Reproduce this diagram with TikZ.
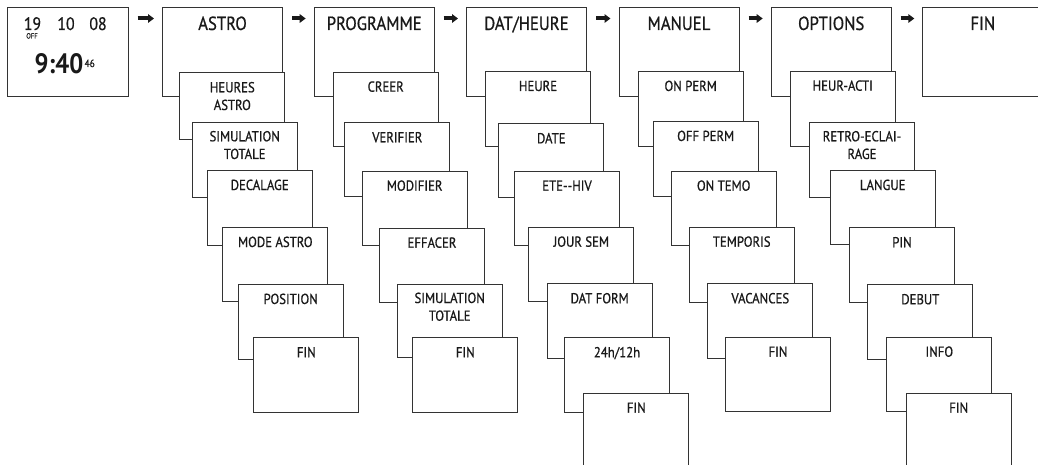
\documentclass[tikz,border=0pt]{standalone}
\usepackage{fontspec}
\setmainfont{PT Sans}[FakeStretch=0.88,UprightFeatures={FakeBold=0.7}]
\usetikzlibrary{arrows.meta}
\begin{document}
\begin{tikzpicture}[x=1pt,y=-1pt,
  bx/.style={draw=black!80,line width=1pt,fill=white,rectangle,inner sep=0pt,anchor=north west},
  tb/.style={bx,minimum width=120pt,minimum height=89.5pt},
  sb/.style={bx,minimum width=105pt,minimum height=#1},
  tl/.style={font=\fontsize{19}{22}\selectfont,text=black!90,inner sep=0pt,anchor=base},
  sl/.style={font=\fontsize{14.5}{17.7}\selectfont,text=black!90,inner sep=0pt,anchor=base,align=center},
  arr/.style={line width=4pt,black!90,-{Triangle[length=6pt,width=8.5pt]},shorten <=9pt,shorten >=8pt}]
\useasboundingbox (0,0) rectangle (1038,465);
\clip (0,0) rectangle (1038,465);

% top row
\node[tb,minimum width=121pt] (clk) at (6.7,7) {};
\node[tb] (astro) at (162,7) {};
\node[tb] (prog) at (313.7,7) {};
\node[tb] (dat) at (466,7) {};
\node[tb] (man) at (618.5,7) {};
\node[tb] (opt) at (770.7,7) {};
\node[tb] (fin) at (922.3,7) {};

\node[tl] (astrot) at ([yshift=-23pt]astro.north) {ASTRO};
\node[tl] (progt) at ([yshift=-23pt]prog.north) {PROGRAMME};
\node[tl] (datt) at ([yshift=-23pt]dat.north) {DAT/HEURE};
\node[tl] (mant) at ([yshift=-23pt]man.north) {MANUEL};
\node[tl] (optt) at ([yshift=-23pt]opt.north) {OPTIONS};
\node[tl] (fint) at ([yshift=-23pt]fin.north) {FIN};

% clock
\node[tl,font=\fontsize{18}{20}\selectfont] (c19) at (32.5,30) {19};
\node[tl,font=\fontsize{18}{20}\selectfont] (c10) at (66,30) {10};
\node[tl,font=\fontsize{18}{20}\selectfont] (c08) at (98,30) {08};
\node[tl,font=\fontsize{7.5}{8}\selectfont] (coff) at (32,38.5) {OFF};
\node[tl,font=\fontsize{28}{30}\bfseries\selectfont,anchor=base west] (ctime) at (34.5,74) {9:40};
\node[tl,font=\fontsize{10.5}{11}\selectfont,anchor=base west] (csec) at (84.5,67) {46};

% arrows
\foreach \a/\b in {clk/astro,astro/prog,prog/dat,dat/man,man/opt,opt/fin}
  \draw[arr] ([yshift=-11.5pt]\a.north east) -- ([yshift=-11.5pt]\b.north west);

% ASTRO column
\node[sb=66.7pt] (a1) at (179.3,72.3) {};
\node[sl] (a1t) at ([yshift=-37.7pt]a1.north) {HEURES\\ASTRO};
\node[sb=74.4pt] (a2) at (191.7,122.3) {};
\node[sl] (a2t) at ([yshift=-36.7pt]a2.north) {SIMULATION\\TOTALE};
\node[sb=75pt] (a3) at (206.7,170) {};
\node[sl] (a3t) at ([yshift=-20pt]a3.north) {DECALAGE};
\node[sb=74pt] (a4) at (222.3,227) {};
\node[sl] (a4t) at ([yshift=-20pt]a4.north) {MODE ASTRO};
\node[sb=74.7pt] (a5) at (237.7,284) {};
\node[sl] (a5t) at ([yshift=-20pt]a5.north) {POSITION};
\node[sb=74.4pt] (a6) at (253.3,337.3) {};
\node[sl] (a6t) at ([yshift=-20pt]a6.north) {FIN};

% PROGRAMME column
\node[sb=74pt] (p1) at (332.7,71.7) {};
\node[sl] (p1t) at ([yshift=-20pt]p1.north) {CREER};
\node[sb=73.7pt] (p2) at (344.3,122.3) {};
\node[sl] (p2t) at ([yshift=-20pt]p2.north) {VERIFIER};
\node[sb=74.3pt] (p3) at (361.7,170.7) {};
\node[sl] (p3t) at ([yshift=-20pt]p3.north) {MODIFIER};
\node[sb=74pt] (p4) at (379,227.7) {};
\node[sl] (p4t) at ([yshift=-20pt]p4.north) {EFFACER};
\node[sb=73.3pt] (p5) at (396.7,284) {};
\node[sl] (p5t) at ([yshift=-36.7pt]p5.north) {SIMULATION\\TOTALE};
\node[sb=74.4pt] (p6) at (412.3,337.3) {};
\node[sl] (p6t) at ([yshift=-20pt]p6.north) {FIN};

% DAT/HEURE column
\node[sb=74.7pt] (d1) at (485,71) {};
\node[sl] (d1t) at ([yshift=-20pt]d1.north) {HEURE};
\node[sb=73.4pt] (d2) at (498.3,123.3) {};
\node[sl] (d2t) at ([yshift=-20pt]d2.north) {DATE};
\node[sb=74.3pt] (d3) at (514,170.7) {};
\node[sl] (d3t) at ([yshift=-20pt]d3.north) {ETE-{}-HIV};
\node[sb=74.3pt] (d4) at (528.3,226.7) {};
\node[sl] (d4t) at ([yshift=-20pt]d4.north) {JOUR SEM};
\node[sb=74.4pt] (d5) at (546.7,283.3) {};
\node[sl] (d5t) at ([yshift=-20pt]d5.north) {DAT FORM};
\node[sb=74.4pt] (d6) at (564,337.3) {};
\node[sl] (d6t) at ([yshift=-20pt]d6.north) {24h/12h};
\node[sb=85pt] (d7) at (583.3,392.7) {};
\node[sl] (d7t) at ([yshift=-20pt]d7.north) {FIN};

% MANUEL column
\node[sb=74.7pt] (m1) at (637.7,71) {};
\node[sl] (m1t) at ([yshift=-20pt]m1.north) {ON PERM};
\node[sb=74.7pt] (m2) at (652.7,121) {};
\node[sl] (m2t) at ([yshift=-20pt]m2.north) {OFF PERM};
\node[sb=74.3pt] (m3) at (670.7,170.7) {};
\node[sl] (m3t) at ([yshift=-20pt]m3.north) {ON TEMO};
\node[sb=75pt] (m4) at (688.7,226.7) {};
\node[sl] (m4t) at ([yshift=-20pt]m4.north) {TEMPORIS};
\node[sb=74.4pt] (m5) at (707.3,283.3) {};
\node[sl] (m5t) at ([yshift=-20pt]m5.north) {VACANCES};
\node[sb=74.3pt] (m6) at (725,336.7) {};
\node[sl] (m6t) at ([yshift=-20pt]m6.north) {FIN};

% OPTIONS column
\node[sb=75pt] (o1) at (789.7,70.7) {};
\node[sl] (o1t) at ([yshift=-20pt]o1.north) {HEUR-ACTI};
\node[sb=74.4pt] (o2) at (809,122.3) {};
\node[sl] (o2t) at ([yshift=-36.7pt]o2.north) {RETRO-ECLAI-\\RAGE};
\node[sb=74.3pt] (o3) at (829.7,170) {};
\node[sl] (o3t) at ([yshift=-20pt]o3.north) {LANGUE};
\node[sb=74.4pt] (o4) at (849,227.3) {};
\node[sl] (o4t) at ([yshift=-20pt]o4.north) {PIN};
\node[sb=74.7pt] (o5) at (867.3,284.3) {};
\node[sl] (o5t) at ([yshift=-20pt]o5.north) {DEBUT};
\node[sb=74.3pt] (o6) at (886.3,336.7) {};
\node[sl] (o6t) at ([yshift=-20pt]o6.north) {INFO};
\node[sb=85pt] (o7) at (905.7,392.7) {};
\node[sl] (o7t) at ([yshift=-20pt]o7.north) {FIN};
\end{tikzpicture}
\end{document}
